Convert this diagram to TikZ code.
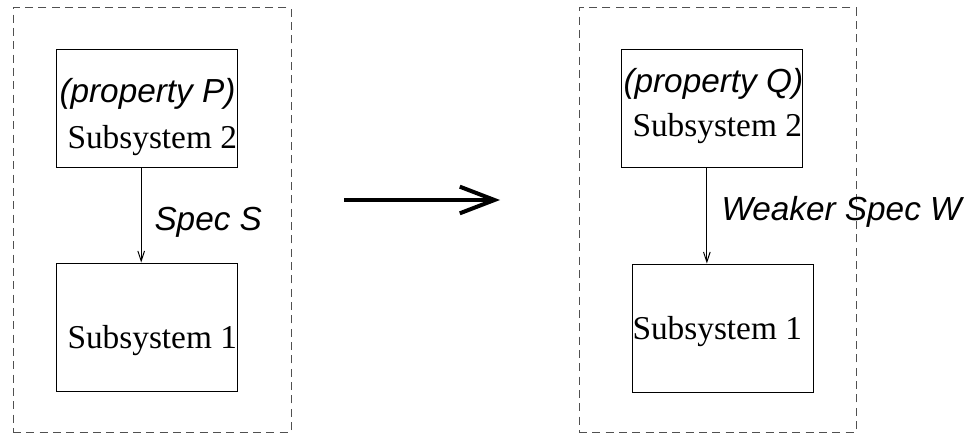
\documentclass[tikz,border=0pt]{standalone}
\usepackage{fontspec}
\setmainfont{Liberation Serif}
\newfontfamily\speclabel{Liberation Sans}
\usetikzlibrary{arrows.meta,fit}

\definecolor{framegray}{RGB}{80,80,80}

\tikzset{every picture/.style={line width=0.75pt}}
\tikzset{
  sysbox/.style={draw, inner sep=0pt},
  framebox/.style={draw=framegray, dash pattern=on 6pt off 4pt, inner sep=0pt},
  systext/.style={anchor=base west, inner sep=0pt, font=\fontsize{25}{30}\selectfont},
  spectext/.style={anchor=base west, inner sep=0pt, font=\speclabel\itshape\fontsize{25}{30}\selectfont},
  specarrow/.style={-{Straight Barb[length=7.5pt,width=5pt]}},
  implarrow/.style={-{Straight Barb[length=26pt,width=20pt]}, line width=3pt}
}

\begin{document}
\begin{tikzpicture}[x=0.75pt,y=0.75pt,yscale=-1,xscale=1]
\useasboundingbox (0,0) rectangle (970,435);

%Dashed frames
\node [framebox, fit={(13,8) (291,432)}] (frameL) {};
\node [framebox, fit={(579,8) (856,432)}] (frameR) {};

%Left system
\node [sysbox, fit={(56,50) (237,167)}] (subTwoL) {};
\node [sysbox, fit={(56,263) (237,391)}] (subOneL) {};
\draw [specarrow] ([xshift=-4pt]subTwoL.south) -- ([xshift=-4pt]subTwoL.south |- subOneL.north);

% Text Node
\node [spectext] (propP) at (59,103) {(property P)};
% Text Node
\node [systext] (nameTwoL) at (67,148) {Subsystem 2};
% Text Node
\node [spectext] (specS) at (154,230) {Spec S};
% Text Node
\node [systext] (nameOneL) at (67,348) {Subsystem 1};

%Implication arrow
\coordinate (implFrom) at (344,200);
\coordinate (implTo) at (500,200);
\draw [implarrow] (implFrom) -- (implTo);

%Right system
\node [sysbox, fit={(621,50) (802,167)}] (subTwoR) {};
\node [sysbox, fit={(632,264) (813,392)}] (subOneR) {};
\draw [specarrow] ([xshift=-3.5pt]subTwoR.south) -- ([xshift=-3.5pt]subTwoR.south |- subOneR.north);

% Text Node
\node [spectext] (propQ) at (623,93) {(property Q)};
% Text Node
\node [systext] (nameTwoR) at (632,136) {Subsystem 2};
% Text Node
\node [spectext] (specW) at (721,220) {Weaker Spec W};
% Text Node
\node [systext] (nameOneR) at (632,339) {Subsystem 1};

\end{tikzpicture}
\end{document}
